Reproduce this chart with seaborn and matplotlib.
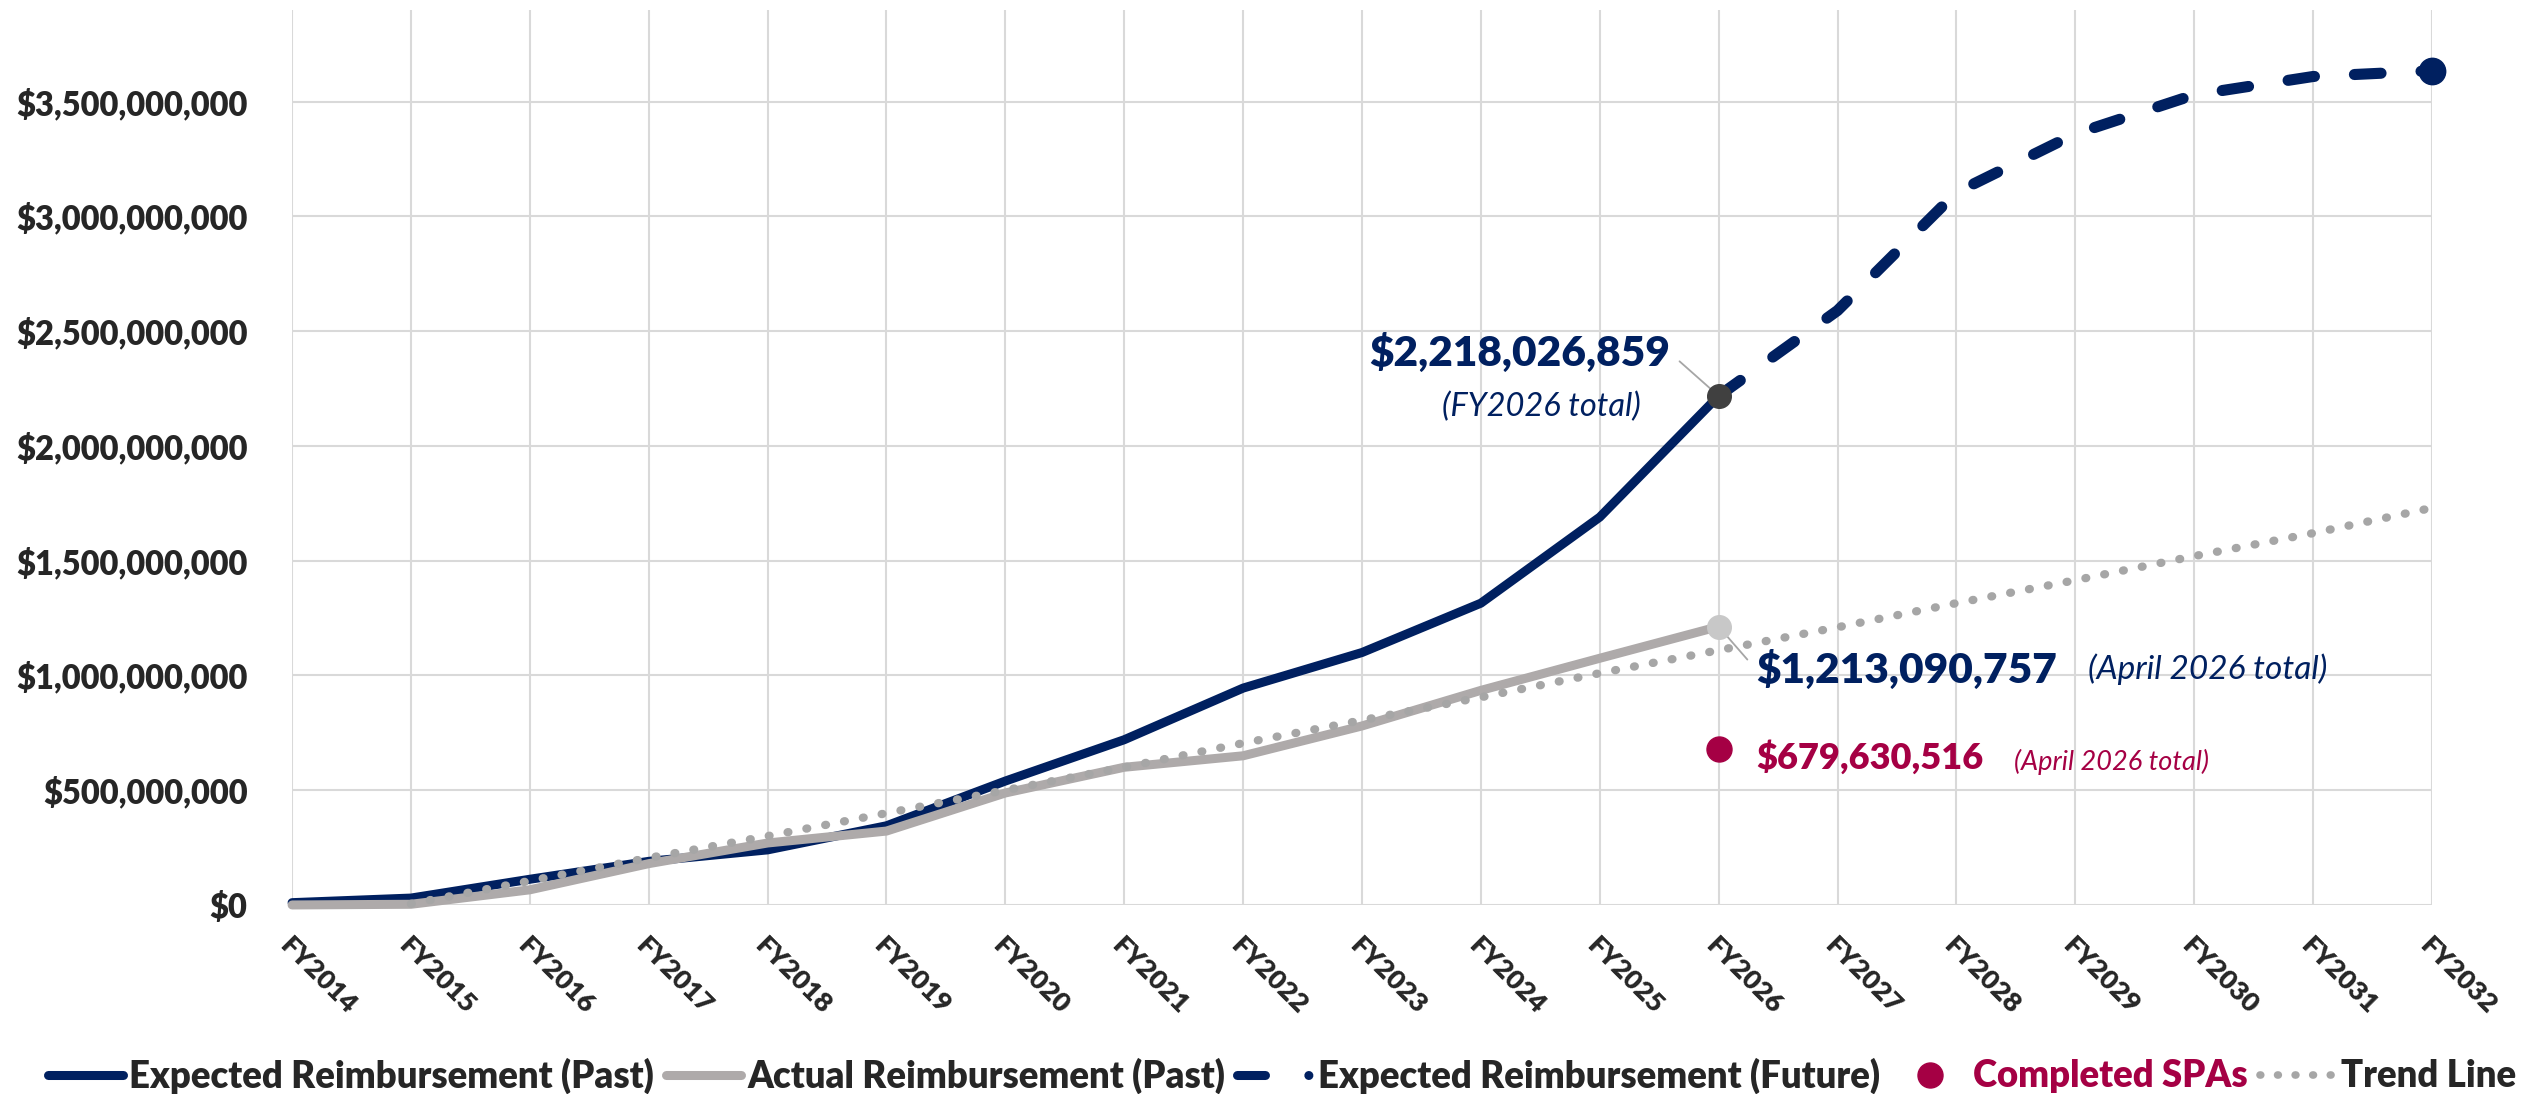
import matplotlib
matplotlib.use('Agg')
import matplotlib.pyplot as plt
import seaborn as sns
from matplotlib.lines import Line2D
from matplotlib.ticker import FuncFormatter
from matplotlib.transforms import ScaledTranslation

# --- Colours -----------------------------------------------------------------
NAVY   = '#002060'
GRAY   = '#AEAAAA'
TREND  = '#A6A6A6'
MAROON = '#A50044'
GRID   = '#D9D9D9'

# --- Data --------------------------------------------------------------------
years = [2014, 2015, 2016, 2017, 2018, 2019, 2020, 2021, 2022, 2023,
         2024, 2025, 2026, 2027, 2028, 2029, 2030, 2031, 2032]
year_labels = ['FY2014', 'FY2015', 'FY2016', 'FY2017', 'FY2018', 'FY2019',
               'FY2020', 'FY2021', 'FY2022', 'FY2023', 'FY2024', 'FY2025',
               'FY2026', 'FY2027', 'FY2028', 'FY2029', 'FY2030', 'FY2031',
               'FY2032']

past_years = [2014, 2015, 2016, 2017, 2018, 2019, 2020,
              2021, 2022, 2023, 2024, 2025, 2026]
expected_past = [10e6, 30e6, 112e6, 190e6, 240e6, 345e6, 540e6,
                 720e6, 945e6, 1100e6, 1315e6, 1690e6, 2218026859]
actual_past = [0, 3e6, 66e6, 180e6, 270e6, 322e6, 488e6,
               600e6, 650e6, 780e6, 935e6, 1075e6, 1213090757]

future_years = [2026, 2027, 2028, 2029, 2030, 2031, 2032]
expected_future = [2218026859, 2590e6, 3105e6, 3360e6, 3530e6, 3610e6, 3635e6]

trend_years = [2015, 2016, 2017, 2018, 2019, 2020, 2021, 2022, 2023,
               2024, 2025, 2026, 2027, 2028, 2029, 2030, 2031, 2032]
trend = [5e6, 105e6, 205e6, 300e6, 400e6, 500e6, 600e6, 705e6, 805e6,
         905e6, 1010e6, 1110e6, 1210e6, 1315e6, 1415e6, 1520e6, 1620e6, 1730e6]

spa_year = 2026
completed_spas = 679630516

y_ticks = [0, 500e6, 1000e6, 1500e6, 2000e6, 2500e6, 3000e6, 3500e6]

# --- Style -------------------------------------------------------------------
sns.set_style('whitegrid', {'grid.color': GRID})
plt.rcParams['font.family'] = ['Lato', 'DejaVu Sans']
plt.rcParams['grid.linewidth'] = 1.5
HEAVY = 'heavy'

fig = plt.figure(figsize=(25.29, 10.94), dpi=100)
ax = fig.add_axes([0.1155, 0.1728, 0.8461, 0.8181])

# Lines
sns.lineplot(x=past_years, y=expected_past, color=NAVY, lw=6.5,
             solid_capstyle='round', clip_on=False, zorder=3, ax=ax)
sns.lineplot(x=past_years, y=actual_past, color=GRAY, lw=6.5,
             solid_capstyle='round', clip_on=False, zorder=3, ax=ax)
sns.lineplot(x=future_years, y=expected_future, color=NAVY, lw=8,
             linestyle=(0, (2.4, 3.6)), dash_capstyle='round',
             clip_on=False, zorder=3, ax=ax)
sns.lineplot(x=trend_years, y=trend, color=TREND, lw=6,
             linestyle=(0, (0.1, 2.2)), dash_capstyle='round',
             clip_on=False, zorder=4, ax=ax)

# Point markers
ax.plot(past_years[-1], expected_past[-1], 'o', color='#404040', ms=17,
        zorder=5, clip_on=False)
ax.plot(past_years[-1], actual_past[-1], 'o', color='#C8C8C8', ms=17,
        zorder=5, clip_on=False)
ax.plot(future_years[-1], expected_future[-1], 'o', color=NAVY, ms=19,
        zorder=5, clip_on=False)
ax.plot(spa_year, completed_spas, 'o', color=MAROON, ms=18,
        zorder=5, clip_on=False)

# --- Annotations ---------------------------------------------------------------
leader = dict(arrowstyle='-', color='#A6A6A6', lw=1.3, shrinkA=6, shrinkB=2)
ax.annotate(f'${expected_past[-1]:,.0f}', xy=(past_years[-1], expected_past[-1]),
            xytext=(-35, 31), textcoords='offset points', ha='right', va='center',
            fontsize=30.5, fontweight=HEAVY, color=NAVY,
            arrowprops=dict(leader, relpos=(1, 0.5)))
ax.annotate('(FY2026 total)', xy=(past_years[-1], expected_past[-1]),
            xytext=(-56, -8), textcoords='offset points', ha='right', va='center',
            fontsize=23.5, fontstyle='italic', color=NAVY)

ax.annotate(f'${actual_past[-1]:,.0f}', xy=(past_years[-1], actual_past[-1]),
            xytext=(27, -31), textcoords='offset points', ha='left', va='center',
            fontsize=30.5, fontweight=HEAVY, color=NAVY,
            arrowprops=dict(leader, relpos=(0, 0.5)))
ax.annotate('(April 2026 total)', xy=(past_years[-1], actual_past[-1]),
            xytext=(266, -31), textcoords='offset points', ha='left', va='center',
            fontsize=24, fontstyle='italic', color=NAVY)

ax.annotate(f'${completed_spas:,.0f}', xy=(spa_year, completed_spas),
            xytext=(27, -6), textcoords='offset points', ha='left', va='center',
            fontsize=26, fontweight=HEAVY, color=MAROON)
ax.annotate('(April 2026 total)', xy=(spa_year, completed_spas),
            xytext=(213, -9), textcoords='offset points', ha='left', va='center',
            fontsize=19.5, fontstyle='italic', color=MAROON)

# --- Axes ----------------------------------------------------------------------
ax.set_xlim(years[0], years[-1])
ax.set_ylim(0, 3.9e9)
ax.set_yticks(y_ticks)
ax.yaxis.set_major_formatter(FuncFormatter(lambda v, p: f'${v:,.0f}'))
ax.set_xticks(years)
ax.set_xticklabels(year_labels, rotation=-45, ha='left', va='top',
                   rotation_mode='anchor', fontweight=HEAVY, fontsize=19.5)
shift = ScaledTranslation(21 / 72, 0, fig.dpi_scale_trans)
for lab in ax.get_xticklabels():
    lab.set_transform(lab.get_transform() + shift)
for lab in ax.get_yticklabels():
    lab.set_fontweight(HEAVY)
    lab.set_fontsize(23.5)
ax.tick_params(axis='y', length=0, pad=32)
ax.tick_params(axis='x', length=0, pad=20)
for s in ax.spines.values():
    s.set_visible(False)
ax.grid(True, color=GRID, lw=1.5)

# --- Legend ----------------------------------------------------------------------
handles = [
    Line2D([], [], color=NAVY, lw=6.5, solid_capstyle='round'),
    Line2D([], [], color=GRAY, lw=6.5, solid_capstyle='round'),
    Line2D([], [], color=NAVY, lw=6.5, linestyle=(0, (3.1, 4.8, 0.01, 10)),
           dash_capstyle='round'),
    Line2D([], [], color=MAROON, lw=0, marker='o', ms=18),
    Line2D([], [], color=TREND, lw=5.5, linestyle=(0, (0.1, 2.2)),
           dash_capstyle='round'),
]
labels = ['Expected Reimbursement (Past)', 'Actual Reimbursement (Past)',
          'Expected Reimbursement (Future)', 'Completed SPAs', 'Trend Line']
leg = fig.legend(handles, labels, loc='center', bbox_to_anchor=(0.507, 0.017),
                 ncol=5, frameon=False, handlelength=2.05, handletextpad=0.17,
                 columnspacing=0.33, prop={'weight': HEAVY, 'size': 26.3})
leg.get_texts()[3].set_color(MAROON)

fig.savefig('out.png', dpi=100)
